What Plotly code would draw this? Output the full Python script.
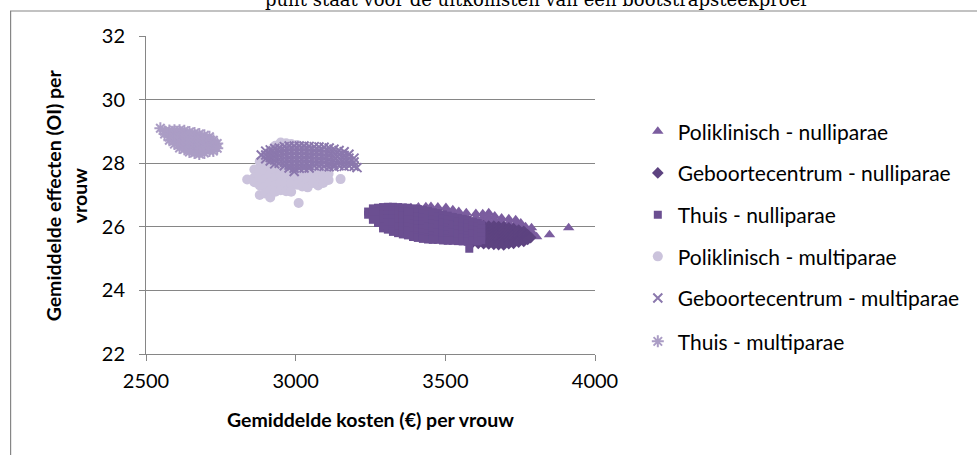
import plotly.graph_objects as go

# Bootstrap results per delivery setting: columns of (mean cost, [mean effects ...])
poli_nulli = [
    (3360, [26.56, 26.44, 26.32]),
    (3385, [26.60, 26.48, 26.36]),
    (3410, [26.62, 26.50, 26.38]),
    (3435, [26.63, 26.51, 26.39]),
    (3452, [26.64, 26.52, 26.40, 26.28]),
    (3475, [26.62, 26.50, 26.38, 26.26]),
    (3502, [26.61, 26.49, 26.37, 26.25]),
    (3525, [26.54, 26.42, 26.30, 26.18]),
    (3545, [26.48, 26.36, 26.24, 26.12]),
    (3570, [26.44, 26.32, 26.20, 26.08]),
    (3602, [26.42, 26.30, 26.18, 26.06]),
    (3625, [26.41, 26.29, 26.17, 26.05]),
    (3645, [26.44, 26.32, 26.20, 26.08]),
    (3665, [26.34, 26.22, 26.10, 25.98]),
    (3688, [26.28, 26.16, 26.04, 25.92]),
    (3712, [26.25, 26.13, 26.01, 25.89]),
    (3735, [26.22, 26.10, 25.98, 25.86]),
    (3752, [26.12, 26.00, 25.88, 25.78]),
    (3768, [26.00, 25.88, 25.78]),
    (3788, [25.97, 25.85, 25.75]),
    (3805, [25.69]),
    (3848, [25.75]),
    (3912, [25.97]),
]

geb_nulli = [
    (3590, [26.10, 26.00, 25.90, 25.80, 25.70, 25.60, 25.50]),
    (3610, [26.06, 25.96, 25.86, 25.76, 25.66, 25.56, 25.48]),
    (3628, [26.03, 25.93, 25.83, 25.73, 25.63, 25.53, 25.47]),
    (3645, [26.02, 25.92, 25.82, 25.72, 25.62, 25.52, 25.46]),
    (3662, [26.02, 25.92, 25.82, 25.72, 25.62, 25.52, 25.45]),
    (3678, [26.01, 25.91, 25.81, 25.71, 25.61, 25.51, 25.44]),
    (3695, [26.00, 25.90, 25.80, 25.70, 25.60, 25.50, 25.43]),
    (3712, [25.97, 25.87, 25.77, 25.67, 25.57, 25.47]),
    (3728, [25.94, 25.84, 25.74, 25.64, 25.54, 25.48]),
    (3745, [25.90, 25.80, 25.70, 25.60, 25.52]),
    (3762, [25.86, 25.77, 25.68, 25.60, 25.54]),
    (3775, [25.75, 25.66, 25.60]),
    (3785, [25.66]),
]

thuis_nulli = [
    (3242, [26.48, 26.38]),
    (3258, [26.58, 26.46, 26.34, 26.22]),
    (3275, [26.60, 26.48, 26.36, 26.24, 26.12]),
    (3292, [26.62, 26.50, 26.38, 26.26, 26.14, 26.02, 25.95]),
    (3308, [26.63, 26.51, 26.39, 26.27, 26.15, 26.03, 25.91]),
    (3325, [26.63, 26.51, 26.39, 26.27, 26.15, 26.03, 25.91, 25.84]),
    (3342, [26.62, 26.50, 26.38, 26.26, 26.14, 26.02, 25.90, 25.80]),
    (3358, [26.61, 26.49, 26.37, 26.25, 26.13, 26.01, 25.89, 25.76]),
    (3375, [26.60, 26.48, 26.36, 26.24, 26.12, 26.00, 25.88, 25.73]),
    (3392, [26.58, 26.46, 26.34, 26.22, 26.10, 25.98, 25.86, 25.74, 25.68]),
    (3408, [26.56, 26.44, 26.32, 26.20, 26.08, 25.96, 25.84, 25.72, 25.65]),
    (3425, [26.54, 26.42, 26.30, 26.18, 26.06, 25.94, 25.82, 25.70, 25.62]),
    (3442, [26.50, 26.38, 26.26, 26.14, 26.02, 25.90, 25.78, 25.66, 25.60]),
    (3458, [26.46, 26.34, 26.22, 26.10, 25.98, 25.86, 25.74, 25.62, 25.59]),
    (3475, [26.43, 26.31, 26.19, 26.07, 25.95, 25.83, 25.71, 25.59]),
    (3492, [26.39, 26.27, 26.15, 26.03, 25.91, 25.79, 25.67, 25.57]),
    (3508, [26.35, 26.23, 26.11, 25.99, 25.87, 25.75, 25.63, 25.56]),
    (3525, [26.31, 26.19, 26.07, 25.95, 25.83, 25.71, 25.59, 25.56]),
    (3542, [26.28, 26.16, 26.04, 25.92, 25.80, 25.68, 25.55]),
    (3558, [26.25, 26.13, 26.01, 25.89, 25.77, 25.65, 25.54]),
    (3575, [26.22, 26.10, 25.98, 25.86, 25.74, 25.62, 25.53]),
    (3580, [25.31]),
    (3592, [26.16, 26.04, 25.92, 25.80, 25.68, 25.56]),
    (3608, [26.12, 26.00, 25.88, 25.76, 25.64, 25.54]),
    (3620, [26.06, 25.94, 25.82, 25.70, 25.58]),
]

poli_multi = [
    (2838, [27.49]),
    (2862, [27.80, 27.55, 27.40]),
    (2880, [28.05, 27.80, 27.55, 27.30, 27.00]),
    (2898, [28.25, 28.00, 27.75, 27.50, 27.25, 27.05]),
    (2915, [28.40, 28.15, 27.90, 27.65, 27.40, 27.15, 26.92]),
    (2932, [28.55, 28.30, 28.05, 27.80, 27.55, 27.30, 27.10]),
    (2950, [28.65, 28.40, 28.15, 27.90, 27.65, 27.40, 27.15]),
    (2968, [28.63, 28.38, 28.13, 27.88, 27.63, 27.38, 27.12]),
    (2985, [28.60, 28.35, 28.10, 27.85, 27.60, 27.35, 27.10]),
    (3005, [28.57, 28.32, 28.07, 27.82, 27.57, 27.32]),
    (3010, [26.75]),
    (3022, [28.52, 28.27, 28.02, 27.77, 27.52, 27.27]),
    (3040, [28.47, 28.22, 27.97, 27.72, 27.47, 27.24]),
    (3058, [28.38, 28.13, 27.88, 27.63, 27.38]),
    (3075, [28.28, 28.03, 27.78, 27.53, 27.30]),
    (3092, [28.10, 27.85, 27.60, 27.38]),
    (3110, [27.92, 27.67, 27.47]),
    (3150, [27.50]),
]

geb_multi = [
    (2885, [28.26]),
    (2900, [28.38, 28.26, 28.14]),
    (2915, [28.42, 28.30, 28.18, 28.07]),
    (2930, [28.46, 28.34, 28.22, 28.10, 27.98]),
    (2945, [28.48, 28.36, 28.24, 28.12, 28.00]),
    (2962, [28.52, 28.40, 28.28, 28.16, 28.04, 27.92]),
    (2978, [28.54, 28.42, 28.30, 28.18, 28.06, 27.94, 27.85]),
    (2995, [28.54, 28.42, 28.30, 28.18, 28.06, 27.94, 27.84, 27.74]),
    (3012, [28.54, 28.42, 28.30, 28.18, 28.06, 27.94, 27.84]),
    (3028, [28.54, 28.42, 28.30, 28.18, 28.06, 27.94, 27.85]),
    (3045, [28.53, 28.41, 28.29, 28.17, 28.05, 27.93, 27.85]),
    (3062, [28.52, 28.40, 28.28, 28.16, 28.04, 27.92]),
    (3078, [28.51, 28.39, 28.27, 28.15, 28.03, 27.91]),
    (3095, [28.50, 28.38, 28.26, 28.14, 28.02, 27.90]),
    (3112, [28.48, 28.36, 28.24, 28.12, 28.00, 27.89]),
    (3128, [28.44, 28.32, 28.20, 28.08, 27.96, 27.89]),
    (3145, [28.40, 28.28, 28.16, 28.04, 27.92]),
    (3162, [28.36, 28.24, 28.12, 28.00, 27.90]),
    (3178, [28.28, 28.16, 28.04, 27.92]),
    (3195, [28.16, 28.04, 27.90]),
    (3205, [27.86]),
]

thuis_multi = [
    (2548, [29.10]),
    (2562, [29.00, 28.92]),
    (2578, [29.03, 28.93, 28.82, 28.72]),
    (2595, [29.04, 28.93, 28.82, 28.70, 28.60]),
    (2612, [29.04, 28.93, 28.82, 28.70, 28.58, 28.48]),
    (2628, [29.02, 28.91, 28.80, 28.68, 28.56, 28.44]),
    (2645, [28.98, 28.87, 28.76, 28.64, 28.52, 28.42, 28.35]),
    (2662, [28.95, 28.84, 28.73, 28.62, 28.50, 28.40, 28.32]),
    (2678, [28.92, 28.81, 28.70, 28.58, 28.47, 28.36, 28.29]),
    (2695, [28.88, 28.77, 28.66, 28.54, 28.43, 28.32]),
    (2712, [28.83, 28.72, 28.60, 28.49, 28.38]),
    (2725, [28.72, 28.60, 28.48, 28.38]),
    (2738, [28.62, 28.47]),
]

series_names = [
    "Poliklinisch - nulliparae",
    "Geboortecentrum - nulliparae",
    "Thuis - nulliparae",
    "Poliklinisch - multiparae",
    "Geboortecentrum - multiparae",
    "Thuis - multiparae",
]

x_ticks = [2500, 3000, 3500, 4000]
y_ticks = [22, 24, 26, 28, 30, 32]

title_text = "punt staat voor de uitkomsten van een bootstrapsteekproef"
x_title = "Gemiddelde kosten (€) per vrouw"
y_title = "Gemiddelde effecten (OI) per<br>vrouw"


def flatten(columns):
    xs, ys = [], []
    for cost, effects in columns:
        for e in effects:
            xs.append(cost)
            ys.append(e)
    return xs, ys


series = [poli_nulli, geb_nulli, thuis_nulli, poli_multi, geb_multi, thuis_multi]
styles = [
    dict(symbol="triangle-up", size=10, color="#7b5d9f"),
    dict(symbol="diamond", size=9, color="#5d4380"),
    dict(symbol="square", size=8, color="#6b4f91"),
    dict(symbol="circle", size=10, color="#cbc3dc"),
    dict(symbol="x-thin-open", size=9, color="#8b78ad", line=dict(width=2, color="#8b78ad")),
    dict(symbol="asterisk-open", size=10, color="#ab9dc5", line=dict(width=2, color="#ab9dc5")),
]

GRID = "#868686"
FONT = "Lato"

fig = go.Figure()
legend_rows_px = [131.7, 173.3, 215.0, 256.7, 298.3, 341.7]
legend_ids = ["legend", "legend2", "legend3", "legend4", "legend5", "legend6"]

for cols, name, style, lid in zip(series, series_names, styles, legend_ids):
    xs, ys = flatten(cols)
    fig.add_trace(go.Scatter(
        x=xs, y=ys, mode="markers", name=name, marker=style,
        legend=lid, hoverinfo="x+y+name",
    ))

plot_top, plot_bottom = 36, 354
plot_left, plot_right = 146, 597
ph = plot_bottom - plot_top
pw = plot_right - plot_left

legend_layouts = {}
for lid, py in zip(legend_ids, legend_rows_px):
    legend_layouts[lid] = dict(
        x=(640 - plot_left) / pw, xanchor="left",
        y=(plot_bottom - py) / ph, yanchor="middle",
        bgcolor="rgba(0,0,0,0)", borderwidth=0,
        font=dict(family=FONT, size=21, color="#000"),
    )

fig.update_layout(
    width=977, height=455,
    margin=dict(l=plot_left, r=977 - plot_right, t=plot_top, b=455 - plot_bottom),
    paper_bgcolor="white", plot_bgcolor="white",
    font=dict(family=FONT, size=20, color="#000"),
    showlegend=True,
    **legend_layouts,
    xaxis=dict(
        range=[2500, 4000], tickvals=x_ticks, showline=True, linecolor=GRID, linewidth=1,
        ticks="outside", ticklen=6, tickcolor=GRID, showgrid=False, zeroline=False,
        tickfont=dict(family=FONT, size=20), ticklabelstandoff=3,
    ),
    yaxis=dict(
        range=[22, 32], tickvals=y_ticks, showline=True, linecolor=GRID, linewidth=1,
        ticks="outside", ticklen=6, tickcolor=GRID, showgrid=True, gridcolor=GRID,
        gridwidth=1, zeroline=False, tickfont=dict(family=FONT, size=20),
        ticklabelstandoff=10,
    ),
    shapes=[
        dict(type="rect", xref="paper", yref="paper",
             x0=(10 - plot_left) / pw, x1=(1000 - plot_left) / pw,
             y0=(plot_bottom - 480) / ph, y1=(plot_bottom - 11) / ph,
             line=dict(color=GRID, width=1.2), fillcolor="rgba(0,0,0,0)", layer="below"),
    ],
    annotations=[
        dict(text=title_text, xref="paper", yref="paper",
             x=(538 - plot_left) / pw, y=(plot_bottom - 12) / ph,
             xanchor="center", yanchor="bottom", showarrow=False,
             font=dict(family="DejaVu Serif", size=18, color="#000")),
        dict(text="<b>" + x_title + "</b>", xref="paper", yref="paper",
             x=0.5, y=(plot_bottom - 419) / ph, xanchor="center", yanchor="middle",
             showarrow=False, font=dict(family=FONT, size=19.5, color="#000")),
        dict(text="<b>" + y_title + "</b>", xref="paper", yref="paper",
             x=(66 - plot_left) / pw, y=0.5, xanchor="center", yanchor="middle",
             textangle=-90, showarrow=False, font=dict(family=FONT, size=19.5, color="#000")),
    ],
)

fig.write_html("out.html")
